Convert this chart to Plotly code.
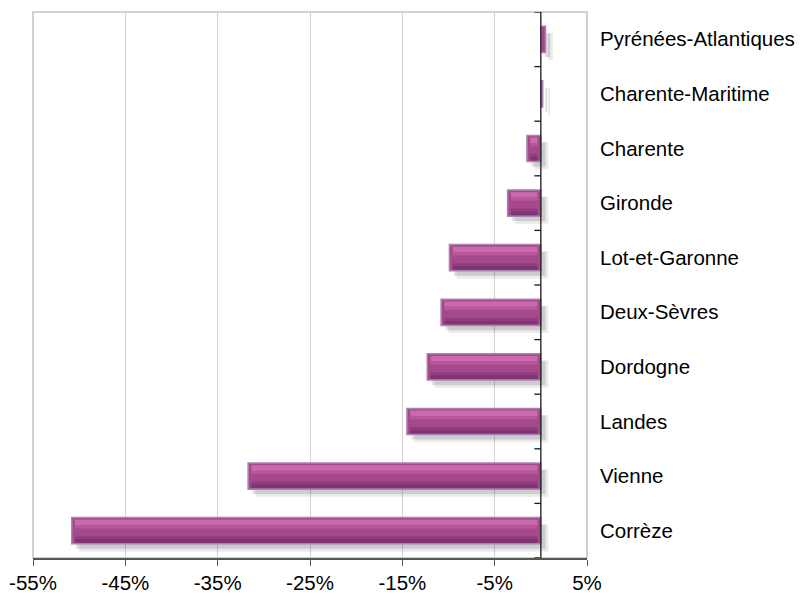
import plotly.graph_objects as go

# Data (bottom to top)
departements = ["Corrèze", "Vienne", "Landes", "Dordogne", "Deux-Sèvres",
                "Lot-et-Garonne", "Gironde", "Charente", "Charente-Maritime",
                "Pyrénées-Atlantiques"]
variation = [-50.8, -31.7, -14.5, -12.3, -10.8, -9.9, -3.6, -1.5, 0.2, 0.5]
tick_values = [-55, -45, -35, -25, -15, -5, 5]
tick_labels = ["-55%", "-45%", "-35%", "-25%", "-15%", "-5%", "5%"]

n = len(departements)
pos = list(range(n))

fig = go.Figure()

# soft shadows
for base, off, wid, alpha in [(0.8, -0.38, 0.50, 0.10), (0.5, -0.33, 0.44, 0.16)]:
    fig.add_trace(go.Bar(
        y=pos, x=variation, base=[base] * n, orientation="h",
        offset=off, width=wid,
        marker=dict(color=f"rgba(50,50,50,{alpha})", line=dict(width=0)),
        hoverinfo="skip", showlegend=False))

# main bar
fig.add_trace(go.Bar(
    y=pos, x=variation, orientation="h", offset=-0.24, width=0.48,
    marker=dict(color="#a5488c", line=dict(color="#a883b4", width=1.5)),
    hoverinfo="skip", showlegend=False))

# bevel bands (inset from ends)
inset = 0.35
band_len = [(1 if v >= 0 else -1) * max(abs(v) - 2 * inset, 0) for v in variation]
band_base = [(inset if v >= 0 else -inset) for v in variation]
for off, wid, col in [(0.10, 0.10, "#c96aab"), (0.04, 0.06, "#b8589b"),
                      (-0.22, 0.07, "#7d3472"), (-0.15, 0.05, "#8f3d80")]:
    fig.add_trace(go.Bar(
        y=pos, x=band_len, base=band_base, orientation="h",
        offset=off, width=wid,
        marker=dict(color=col, line=dict(width=0)),
        hoverinfo="skip", showlegend=False))

shapes = [
    # plot border
    dict(type="rect", xref="paper", yref="paper", x0=0, x1=1, y0=0, y1=1,
         line=dict(color="#c4c4c4", width=1.5), layer="below"),
    # zero axis line
    dict(type="line", xref="x", yref="y", x0=0, x1=0, y0=-0.5, y1=n - 0.5,
         line=dict(color="#1a1a1a", width=1.3)),
]
for k in range(n + 1):
    shapes.append(dict(type="line", xref="x", yref="y", x0=0, x1=-0.7,
                       y0=k - 0.5, y1=k - 0.5,
                       line=dict(color="#1a1a1a", width=1.3)))

fig.update_layout(
    width=805, height=593,
    margin=dict(l=25, r=226, t=4, b=43, autoexpand=False),
    paper_bgcolor="white", plot_bgcolor="white",
    barmode="overlay",
    font=dict(family="Liberation Sans, Arial, sans-serif", size=20.5, color="#000"),
    shapes=shapes,
    xaxis=dict(range=[-55, 5], tickvals=tick_values, ticktext=tick_labels,
               automargin=False,
               showgrid=True, gridcolor="#d2d2d2", gridwidth=1,
               zeroline=False, showline=True, linecolor="#555555", linewidth=1.5,
               ticks="outside", ticklen=6, tickcolor="#555555", tickwidth=1.3,
               tickfont=dict(size=20.5)),
    yaxis=dict(range=[-0.5, n - 0.5], tickvals=pos, ticktext=departements,
               automargin=False,
               side="right", showgrid=False, zeroline=False, showline=False,
               ticks="", ticklabelstandoff=12, tickfont=dict(size=20.5)),
)

fig.write_html("out.html")
